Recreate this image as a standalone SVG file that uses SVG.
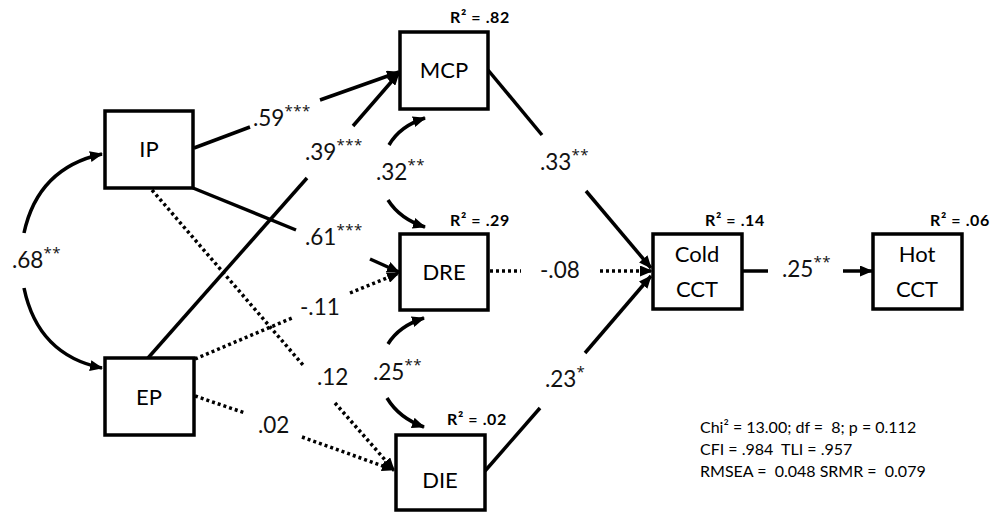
<svg xmlns="http://www.w3.org/2000/svg" width="998" height="513" viewBox="0 0 998 513">
<style>
.box{fill:#fff;stroke:#000;stroke-width:3.5}
.nt{font-family:Lato,"Open Sans",sans-serif;font-size:22px;fill:#000;text-anchor:middle}
.lb{font-family:Lato,"Open Sans",sans-serif;font-size:22.5px;fill:#111}
.sup{font-family:"Open Sans",sans-serif;font-size:15px;letter-spacing:0.5px}
.r2{font-family:Lato,"Open Sans",sans-serif;font-size:16px;font-weight:bold;fill:#000;letter-spacing:0.6px}
.fit{font-family:Lato,"Open Sans",sans-serif;font-size:16px;fill:#000;white-space:pre}
.ln{fill:none;stroke:#000;stroke-width:3.5}
.dt{fill:none;stroke:#000;stroke-width:3.5;stroke-dasharray:3 3}
</style>
<defs>
<marker id="ah" markerUnits="userSpaceOnUse" markerWidth="13" markerHeight="11" refX="12" refY="5.5" orient="auto">
<path d="M0,0 L13,5.5 L0,11 z" fill="#000"/>
</marker>
</defs>
<rect width="998" height="513" fill="#fff"/>
<g id="connectors">
<path class="ln" d="M194,148 L250,127"/>
<path class="ln" d="M320,100 L399,72" marker-end="url(#ah)"/>
<path class="ln" d="M148,358 L307,178"/>
<path class="ln" d="M353,126 L399,73" marker-end="url(#ah)"/>
<path class="ln" d="M193,188 L296,230"/>
<path class="ln" d="M370,259 L399,272" marker-end="url(#ah)"/>
<path class="dt" d="M152,190 L303,365"/>
<path class="dt" d="M335,403 L394,470" marker-end="url(#ah)"/>
<path class="dt" d="M195,359 L292,318"/>
<path class="dt" d="M350,293 L399,273" marker-end="url(#ah)"/>
<path class="dt" d="M195,396 L245,413"/>
<path class="dt" d="M302,437 L394,470" marker-end="url(#ah)"/>
<path class="ln" d="M24,233 Q38,168 102,154" marker-end="url(#ah)"/>
<path class="ln" d="M24,288 Q38,355 102,368" marker-end="url(#ah)"/>
<path class="ln" d="M389,145 Q400,126 425,118" marker-end="url(#ah)"/>
<path class="ln" d="M388,200 Q400,219 425,227" marker-end="url(#ah)"/>
<path class="ln" d="M388,344 Q399,326 424,318" marker-end="url(#ah)"/>
<path class="ln" d="M387,398 Q399,418 424,427" marker-end="url(#ah)"/>
<path class="ln" d="M488,70 L542,135"/>
<path class="ln" d="M586,191 L651,268" marker-end="url(#ah)"/>
<path class="dt" d="M490,271 L521,271"/>
<path class="dt" d="M600,271 L652,271" marker-end="url(#ah)"/>
<path class="ln" d="M485,471 L540,408"/>
<path class="ln" d="M585,353 L651,276" marker-end="url(#ah)"/>
<path class="ln" d="M742,271 L768,271"/>
<path class="ln" d="M843,271 L872,271" marker-end="url(#ah)"/>
</g>
<g id="labels">
<text class="lb" x="253" y="126">.59<tspan class="sup" dy="-10">***</tspan></text>
<text class="lb" x="305" y="160">.39<tspan class="sup" dy="-10">***</tspan></text>
<text class="lb" x="305" y="245">.61<tspan class="sup" dy="-10">***</tspan></text>
<text class="lb" x="376" y="180">.32<tspan class="sup" dy="-10">**</tspan></text>
<text class="lb" x="12" y="268">.68<tspan class="sup" dy="-10">**</tspan></text>
<text class="lb" x="300" y="315">-.11</text>
<text class="lb" x="317" y="385">.12</text>
<text class="lb" x="258" y="433">.02</text>
<text class="lb" x="373" y="380">.25<tspan class="sup" dy="-10">**</tspan></text>
<text class="lb" x="540" y="170">.33<tspan class="sup" dy="-10">**</tspan></text>
<text class="lb" x="540" y="278">-.08</text>
<text class="lb" x="545" y="387">.23<tspan class="sup" dy="-10">*</tspan></text>
<text class="lb" x="782" y="277">.25<tspan class="sup" dy="-10">**</tspan></text>
</g>
<g id="IP">
<rect class="box" x="105" y="111" width="88" height="77"/>
<text class="nt" x="149" y="157">IP</text>
</g>
<g id="EP">
<rect class="box" x="105" y="358" width="89" height="77"/>
<text class="nt" x="149" y="405">EP</text>
</g>
<g id="MCP">
<rect class="box" x="400" y="32" width="88" height="77"/>
<text class="nt" x="444" y="78">MCP</text>
<text class="r2" x="450" y="23">R² = .82</text>
</g>
<g id="DRE">
<rect class="box" x="400" y="234" width="88" height="76"/>
<text class="nt" x="444" y="280">DRE</text>
<text class="r2" x="450" y="226">R² = .29</text>
</g>
<g id="DIE">
<rect class="box" x="396" y="435" width="89" height="75"/>
<text class="nt" x="440" y="488">DIE</text>
<text class="r2" x="447" y="425">R² = .02</text>
</g>
<g id="ColdCCT">
<rect class="box" x="653" y="234" width="89" height="75"/>
<text class="nt" x="697" y="262">Cold</text>
<text class="nt" x="697" y="297">CCT</text>
<text class="r2" x="705" y="226">R² = .14</text>
</g>
<g id="HotCCT">
<rect class="box" x="873" y="234" width="89" height="75"/>
<text class="nt" x="917" y="262">Hot</text>
<text class="nt" x="917" y="297">CCT</text>
<text class="r2" x="930" y="226">R² = .06</text>
</g>
<g id="fit">
<text class="fit" x="700" y="433">Chi² = 13.00; df =  8; p = 0.112</text>
<text class="fit" x="700" y="455">CFI = .984  TLI = .957</text>
<text class="fit" x="700" y="477">RMSEA =  0.048 SRMR =  0.079</text>
</g>
</svg>
